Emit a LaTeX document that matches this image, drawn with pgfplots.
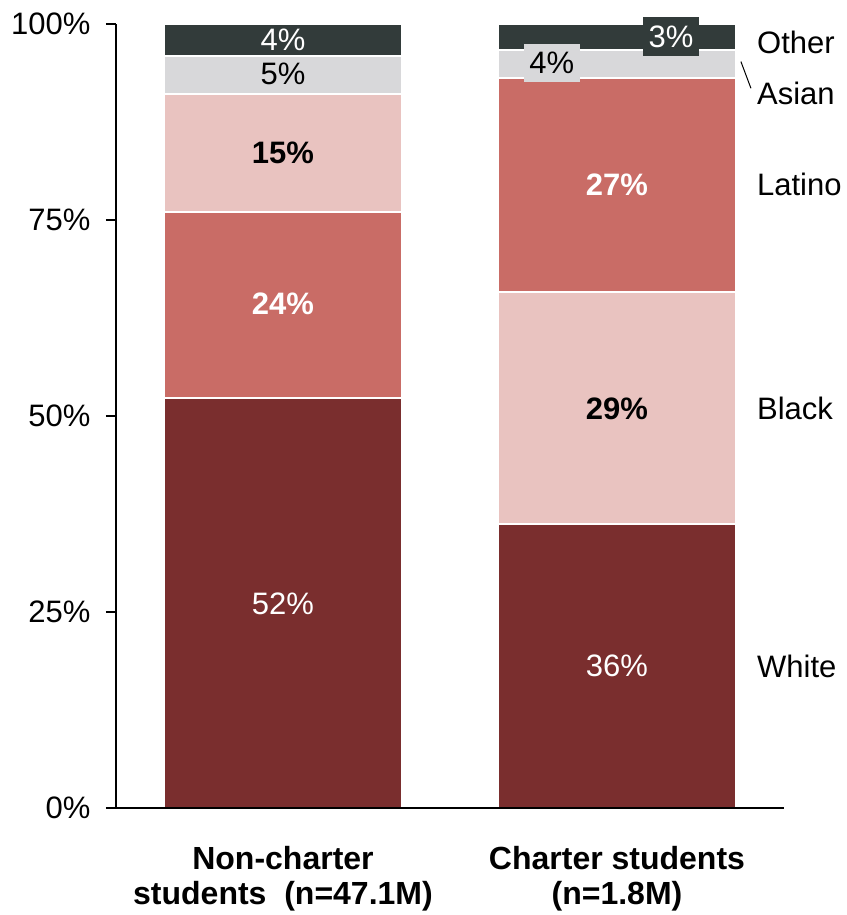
\documentclass[border=0pt]{standalone}
\usepackage{pgfplots}
\pgfplotsset{compat=1.18}
\usepackage{fontspec}
\setmainfont{Liberation Sans}
\definecolor{cwhite}{HTML}{7A2E2E}
\definecolor{clatino}{HTML}{C96C66}
\definecolor{cblack}{HTML}{E9C3C0}
\definecolor{casian}{HTML}{D8D8DA}
\definecolor{cother}{HTML}{323B3A}
\tikzset{lab/.style={font=\fontsize{31}{36}\selectfont},
  blab/.style={font=\fontsize{31}{36}\selectfont\bfseries}}
\begin{document}
\begin{tikzpicture}
\begin{axis}[
  name=ax, axis on top,
  scale only axis, width=668pt, height=784pt,
  xmin=-0.5, xmax=1.5, ymin=0, ymax=100,
  ybar stacked, bar width=238pt,
  axis lines*=left, axis line style={line width=1.6pt, -},
  xtick={0,1},
  xticklabels={{Non-charter\\students~ (n=47.1M)},{Charter students\\(n=1.8M)}},
  x tick style={draw=none},
  xticklabel style={align=center, font=\fontsize{32}{35}\selectfont\bfseries, yshift=-25pt},
  ytick={0,25,50,75,100}, yticklabels={0\%,25\%,50\%,75\%,100\%},
  yticklabel style={font=\fontsize{31}{36}\selectfont, xshift=-12pt},
  tick align=outside, major tick length=10pt,
  y tick style={line width=1.6pt, black},
  clip=false,
  every axis plot/.append style={draw=white, line width=1.5pt},
  after end axis/.code={
    \node[lab, text=white] at (axis cs:0,98.0) {4\%};
    \node[lab, text=black] at (axis cs:0,93.6) {5\%};
    \node[blab, text=black] at (axis cs:0,83.5) {15\%};
    \node[blab, text=white] at (axis cs:0,64.3) {24\%};
    \node[lab, text=white] at (axis cs:0,26.1) {52\%};
    \node[lab, fill=cother, text=white, inner sep=0pt, minimum width=56pt, minimum height=39pt] at (axis cs:1.162,98.4) {3\%};
    \node[lab, fill=casian, text=black, inner sep=0pt, minimum width=56pt, minimum height=38pt] at (axis cs:0.805,95.0) {4\%};
    \node[blab, text=white] at (axis cs:1,79.5) {27\%};
    \node[blab, text=black] at (axis cs:1,50.9) {29\%};
    \node[lab, text=white] at (axis cs:1,18.1) {36\%};
    \node[lab, anchor=west, inner sep=0pt] at (axis cs:1.419,97.6) {Other};
    \node[lab, anchor=west, inner sep=0pt] at (axis cs:1.419,91.2) {Asian};
    \node[lab, anchor=west, inner sep=0pt] at (axis cs:1.419,79.5) {Latino};
    \node[lab, anchor=west, inner sep=0pt] at (axis cs:1.419,51.0) {Black};
    \node[lab, anchor=west, inner sep=0pt] at (axis cs:1.419,18.1) {White};
    \draw[line width=1pt] (axis cs:1.371,95.2) -- (axis cs:1.401,91.8);
  },
]
\addplot[fill=cwhite] coordinates {(0,52.3) (1,36.2)};
\addplot[fill=clatino] coordinates {(0,23.7) (1,0)};
\addplot[fill=cblack] coordinates {(0,15.1) (1,29.6)};
\addplot[fill=clatino] coordinates {(0,0) (1,27.3)};
\addplot[fill=casian] coordinates {(0,4.8) (1,3.6)};
\addplot[fill=cother] coordinates {(0,4.1) (1,3.3)};
\end{axis}
\pgfresetboundingbox
\path ([shift={(-116pt,-107pt)}]ax.south west) rectangle ([shift={(62pt,24pt)}]ax.north east);
\end{tikzpicture}
\end{document}
